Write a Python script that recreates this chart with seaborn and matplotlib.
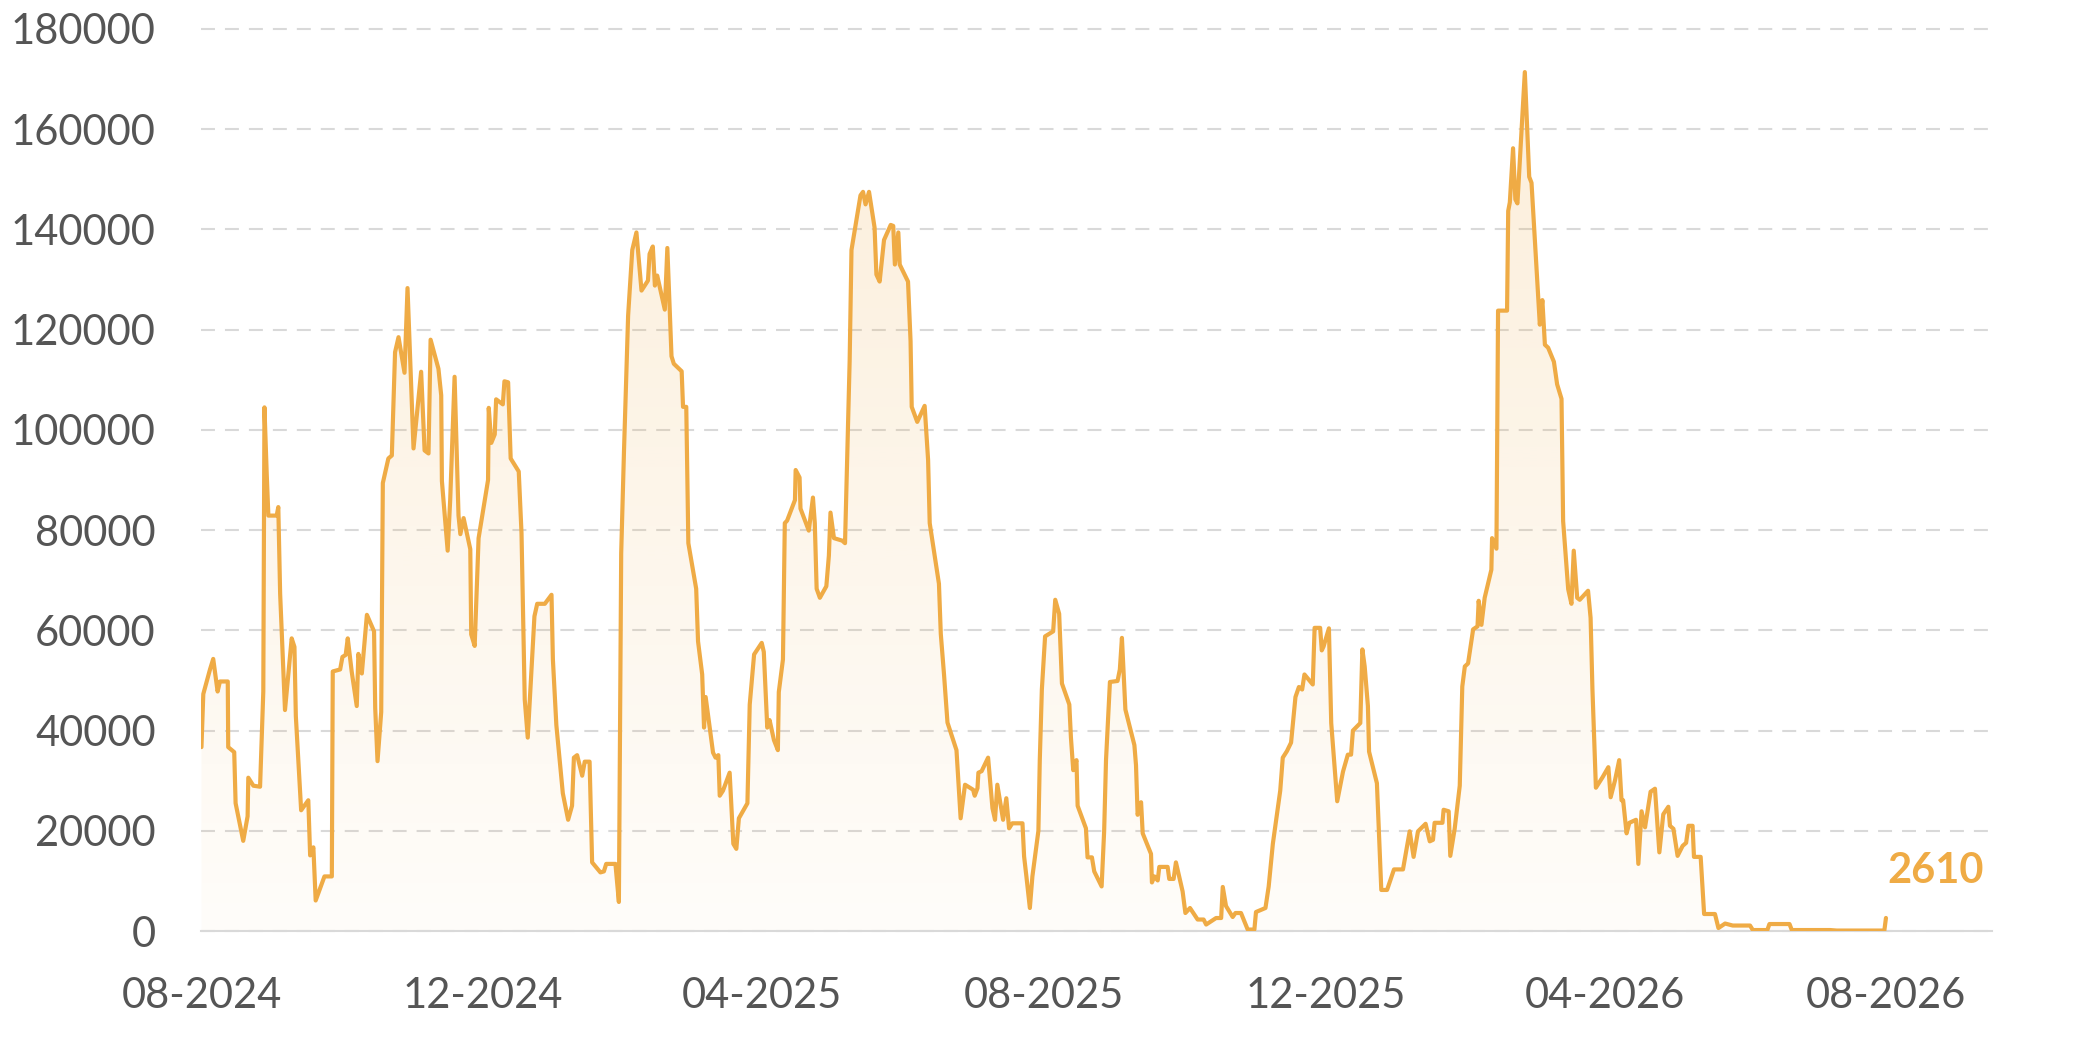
import numpy as np
import pandas as pd
import seaborn as sns
import matplotlib.pyplot as plt
import matplotlib.dates as mdates
from matplotlib.colors import to_rgb

# Dados: dias desde 01-08-2024 e valor
days = [
    0, 0.8, 3.7, 5.1, 7.0, 8.0, 11.4, 11.6, 14.2, 14.8,
    18.1, 20.0, 20.3, 22.5, 25.4, 26.8, 27.3, 28.3, 29.0, 32.6,
    33.3, 34.1, 36.2, 39.1, 40.3, 40.9, 43.2, 46.3, 47.1, 48.5,
    49.5, 53.3, 56.5, 56.9, 60.1, 61.1, 62.5, 63.4, 65.1, 67.3,
    68.0, 69.5, 71.7, 74.8, 75.3, 76.3, 77.9, 78.6, 81.0, 82.5,
    83.9, 85.4, 88.0, 89.3, 91.9, 95.2, 96.7, 98.4, 99.3, 102.7,
    103.9, 104.2, 106.7, 107.8, 109.7, 111.4, 112.2, 113.6, 116.5, 116.9,
    118.4, 120.1, 124.2, 124.5, 125.6, 127.1, 127.7, 130.6, 131.3, 132.9,
    134.0, 137.5, 138.7, 140.1, 141.4, 142.9, 144.3, 145.5, 148.8, 151.7,
    152.3, 153.8, 156.6, 158.9, 160.6, 161.4, 162.8, 165.0, 166.1, 168.2,
    169.3, 172.9, 174.4, 175.4, 179.4, 180.9, 181.9, 183.1, 184.9, 186.7,
    188.5, 190.7, 193.5, 194.2, 195.6, 196.5, 197.5, 200.8, 201.9, 203.7,
    204.7, 208.1, 208.7, 210.1, 211.0, 214.4, 215.2, 217.0, 217.8, 218.5,
    221.7, 222.8, 224.0, 224.6, 226.0, 228.9, 230.5, 231.8, 232.9, 236.6,
    237.6, 239.5, 242.8, 243.7, 245.2, 246.2, 248.1, 249.8, 250.2, 252.0,
    252.8, 253.8, 257.2, 257.5, 259.2, 259.6, 263.2, 265.0, 265.8, 266.6,
    268.0, 270.8, 271.9, 272.6, 274.1, 277.7, 278.9, 280.9, 281.7, 284.2,
    285.6, 286.7, 287.8, 289.3, 291.7, 292.5, 293.9, 295.8, 298.7, 299.8,
    300.5, 302.0, 302.6, 306.2, 307.3, 307.8, 310.2, 313.4, 314.9, 315.6,
    319.6, 320.4, 321.8, 323.3, 327.2, 329.0, 330.9, 334.4, 335.1, 336.3,
    336.7, 338.1, 340.9, 342.8, 343.9, 344.9, 347.4, 348.8, 350.0, 351.4,
    355.8, 356.5, 357.5, 359.0, 360.1, 362.7, 363.3, 364.2, 365.6, 369.1,
    370.0, 371.7, 372.9, 376.1, 376.8, 377.8, 379.2, 379.7, 383.3, 384.0,
    385.9, 386.9, 390.1, 391.2, 392.0, 393.7, 397.0, 398.0, 398.9, 400.4,
    404.3, 405.0, 405.7, 407.2, 407.9, 411.5, 411.9, 413.0, 414.4, 415.1,
    418.7, 419.4, 421.3, 422.3, 425.2, 426.4, 428.4, 431.7, 434.3, 435.4,
    439.7, 441.9, 442.6, 444.0, 446.9, 448.1, 450.5, 453.4, 456.3, 457.0,
    461.1, 462.5, 464.3, 467.5, 468.6, 470.4, 472.2, 474.1, 475.6, 477.0,
    478.0, 481.6, 482.4, 484.8, 485.5, 486.3, 488.6, 489.6, 492.2, 494.7,
    496.8, 498.2, 499.0, 502.2, 503.1, 504.1, 505.5, 506.0, 509.4, 510.3,
    511.3, 513.8, 516.8, 520.7, 523.6, 525.3, 527.2, 530.5, 532.3, 533.7,
    534.4, 537.8, 538.3, 540.5, 541.2, 543.1, 545.3, 546.4, 547.5, 548.9,
    551.1, 553.0, 553.5, 554.7, 556.1, 559.0, 559.3, 561.2, 561.9, 565.8,
    566.3, 567.0, 568.4, 569.4, 570.3, 573.5, 575.4, 576.4, 578.5, 580.0,
    581.1, 582.2, 583.6, 586.1, 587.5, 589.4, 590.1, 592.3, 593.7, 594.7,
    596.2, 597.3, 600.9, 602.0, 602.8, 604.3, 607.2, 609.7, 610.7, 612.6,
    614.4, 615.4, 616.1, 617.6, 618.8, 621.7, 622.7, 624.1, 625.6, 628.0,
    629.9, 631.8, 633.5, 635.7, 636.4, 637.9, 639.7, 641.9, 643.4, 644.4,
    646.2, 646.8, 649.7, 651.2, 655.9, 657.4, 660.3, 663.6, 671.1, 672.3,
    678.6, 679.5, 688.2, 689.2, 705.8, 708.7, 729.3, 730.0,
]
values = [
    36700, 47300, 52200, 54300, 47800, 49800, 49800, 36700, 35700, 25500,
    18000, 22900, 30600, 29000, 28800, 47800, 104500, 91000, 82900, 82900,
    84600, 67300, 44100, 58400, 56700, 42900, 24100, 26100, 15100, 16700,
    6100, 10900, 10900, 51800, 52200, 54700, 55100, 58400, 51800, 44900,
    55300, 51400, 63100, 59800, 44500, 33900, 43700, 89400, 94300, 94900,
    115500, 118500, 111400, 128300, 96300, 111600, 95900, 95300, 118000, 112200,
    106900, 89800, 75900, 86100, 110600, 82900, 79200, 82400, 76200, 59200,
    56900, 78400, 90000, 104400, 97400, 99100, 106100, 105100, 109700, 109500,
    94300, 91700, 79400, 46200, 38600, 51200, 62800, 65300, 65300, 67100,
    54200, 41100, 27500, 22200, 25000, 34600, 35100, 31000, 33800, 33800,
    13700, 11700, 11900, 13400, 13400, 5800, 75400, 95600, 122800, 135900,
    139400, 127800, 129800, 135100, 136600, 128800, 130800, 124000, 136300, 114700,
    113200, 111700, 104600, 104600, 77400, 68300, 57800, 51200, 40600, 46700,
    35600, 34600, 35100, 27000, 28000, 31600, 17400, 16400, 22500, 25500,
    45200, 55200, 57500, 55700, 40600, 42100, 38100, 36100, 47700, 54200,
    81400, 81900, 86000, 92000, 90500, 84300, 79900, 86500, 81400, 68300,
    66500, 68800, 74900, 83500, 78400, 77900, 77400, 113700, 135900, 142900,
    146800, 147500, 145000, 147500, 140400, 131000, 129600, 137900, 140900, 140700,
    133000, 139400, 133000, 129600, 117700, 104600, 101600, 104800, 94000, 81400,
    69300, 59300, 51200, 41600, 36100, 22500, 29200, 28200, 27000, 28500,
    31600, 31900, 34600, 24500, 22200, 29200, 22200, 26500, 20500, 21500,
    21500, 14900, 10900, 4600, 10900, 20000, 34100, 48200, 58800, 59800,
    66100, 63300, 49400, 45200, 38600, 32100, 34100, 25000, 20500, 14700,
    14700, 11900, 8900, 20000, 34100, 49700, 49900, 52200, 58500, 44200,
    37100, 33100, 23200, 25700, 19500, 15400, 9700, 10900, 10100, 12800,
    12800, 10400, 10400, 13700, 7900, 3600, 4600, 2300, 2300, 1300,
    2600, 2600, 8800, 5000, 2800, 3600, 3600, 300, 300, 3800,
    4600, 8900, 17400, 28000, 34600, 35900, 37600, 46700, 48700, 48200,
    51200, 49200, 60500, 60500, 56000, 56800, 60400, 41500, 25900, 31800,
    35200, 35200, 40000, 41500, 56200, 52800, 44900, 35800, 29500, 19300,
    8200, 8200, 12300, 12300, 19900, 14800, 19900, 21400, 17900, 18200,
    21600, 21600, 24200, 23900, 15000, 20400, 29000, 48800, 52800, 53400,
    60200, 60800, 65900, 61100, 66500, 72100, 78400, 76300, 123800, 123800,
    143700, 145400, 156200, 146000, 145200, 171400, 150500, 149300, 132900, 121000,
    125900, 117000, 116400, 113600, 109100, 106200, 81800, 68200, 65300, 75900,
    66500, 66100, 67900, 62500, 48300, 28600, 30700, 32700, 26700, 30100,
    34100, 26100, 26100, 19500, 21600, 22200, 13400, 23900, 20700, 27800,
    28400, 15700, 23300, 24800, 21000, 20400, 15000, 17000, 17600, 21000,
    21000, 14800, 14800, 3400, 3400, 600, 1500, 1100, 1100, 200,
    200, 1400, 1400, 200, 200, 100, 100, 2610,
]

tick_dates = ["2024-08-01", "2024-12-01", "2025-04-01", "2025-08-01",
              "2025-12-01", "2026-04-01", "2026-08-01"]
tick_labels = ["08-2024", "12-2024", "04-2025", "08-2025",
               "12-2025", "04-2026", "08-2026"]
y_ticks = [0, 20000, 40000, 60000, 80000, 100000, 120000, 140000, 160000, 180000]

orange = "#EFAB45"
grey_txt = "#555555"
grey_line = "#d9d9d9"

sns.set_style("white")
plt.rcParams["font.family"] = ["Lato", "DejaVu Sans"]

start = pd.Timestamp("2024-08-01")
df = pd.DataFrame({"date": start + pd.to_timedelta(days, unit="D"), "value": values})

fig = plt.figure(figsize=(20.79, 10.39), dpi=100)
ax = fig.add_axes([0.0969, 0.1039, 0.8613, 0.8682])

# Área com degradê por baixo da linha
x0 = mdates.date2num(start)
x1 = mdates.date2num(start + pd.Timedelta(days=776))
alpha = np.linspace(0.03, 0.2, 256)
rgba = np.zeros((256, 1, 4))
rgba[..., :3] = to_rgb(orange)
rgba[:, 0, 3] = alpha
im = ax.imshow(rgba, aspect="auto", origin="lower", extent=[x0, x1, 0, 172000],
               zorder=1, interpolation="bilinear")
area = ax.fill_between(mdates.date2num(df["date"]), df["value"], 0, color="none")
im.set_clip_path(area.get_paths()[0], transform=ax.transData)

# Linha principal
sns.lineplot(data=df, x="date", y="value", ax=ax, color=orange, linewidth=3,
             estimator=None, sort=False, zorder=3, solid_joinstyle="round")

ax.set_xlim(x0, x1)
ax.set_ylim(0, 180000)

ax.set_xticks(mdates.date2num(pd.to_datetime(tick_dates)))
ax.set_xticklabels(tick_labels)
ax.set_yticks(y_ticks)
ax.set_yticklabels([str(v) for v in y_ticks])
ax.set_xlabel("")
ax.set_ylabel("")

for lbl in ax.get_xticklabels() + ax.get_yticklabels():
    lbl.set_fontsize(30)
    lbl.set_color(grey_txt)

ax.tick_params(axis="x", length=11, width=1.5, color=grey_line, pad=22)
ax.tick_params(axis="y", length=0, pad=33)

ax.yaxis.grid(True, color=grey_line, linestyle=(0, (6.7, 4.8)), linewidth=1.5)
ax.xaxis.grid(False)
ax.set_axisbelow(True)
for line in ax.get_ygridlines():
    line.set_clip_on(False)

for side in ["top", "right", "left"]:
    ax.spines[side].set_visible(False)
ax.spines["bottom"].set_color(grey_line)
ax.spines["bottom"].set_linewidth(1.5)

# Rótulo do último valor
ax.annotate(f"{values[-1]}", xy=(df["date"].iloc[-1], values[-1]),
            xytext=(1, 25), textcoords="offset points",
            ha="left", va="baseline", fontsize=30, fontweight="bold", color=orange)

fig.savefig("out.png", dpi=100)
